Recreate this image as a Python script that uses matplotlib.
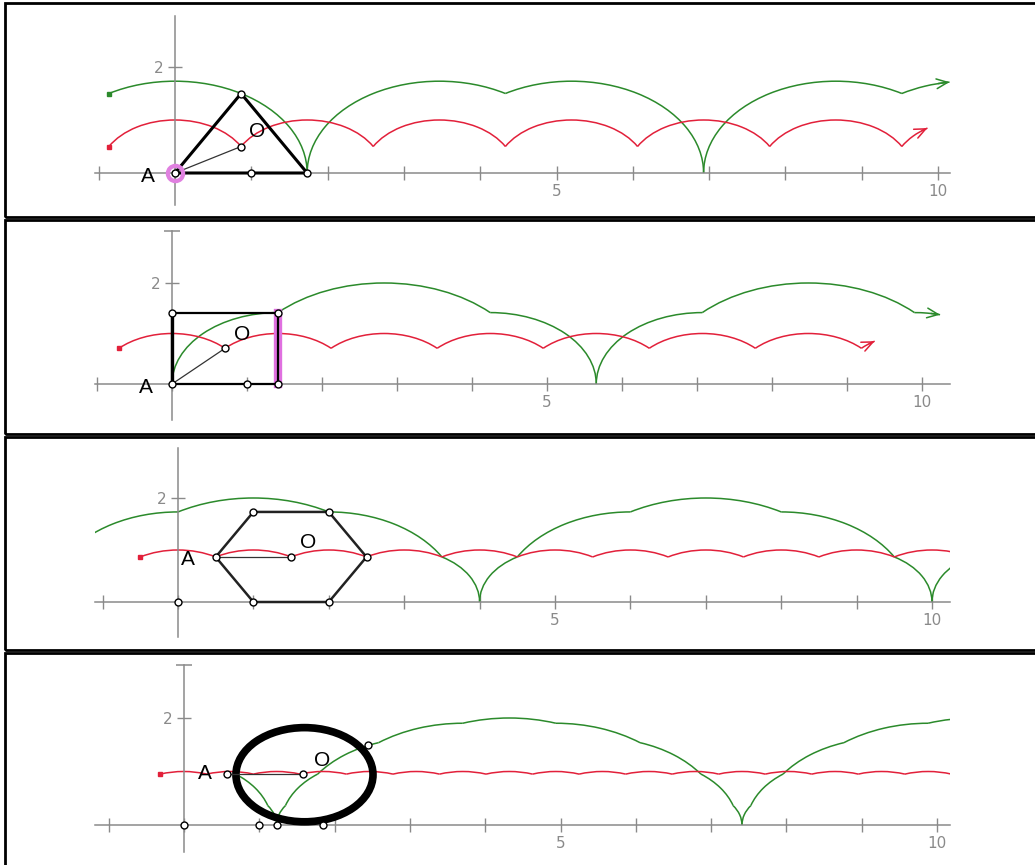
import numpy as np
import matplotlib.pyplot as plt
from matplotlib.patches import Arc, Ellipse, Polygon, Rectangle

W, H = 1035, 865
GREEN = '#2b8a2b'
RED = '#e2203a'
GREY = '#8a8a8a'

# arcs of each locus: (centre x on the axis, radius, start angle, end angle) in degrees
# panel 1 - rolling triangle
tri_green = [(0.0, 1.732, 0, 120), (3.464, 1.732, 60, 180), (5.196, 1.732, 0, 120),
             (8.660, 1.732, 60, 180), (10.392, 1.732, 98, 120)]
tri_red = [(0.0, 1, 30, 150), (1.732, 1, 30, 150), (3.464, 1, 30, 150), (5.196, 1, 30, 150),
           (6.928, 1, 30, 150), (8.660, 1, 30, 150), (10.392, 1, 122, 150)]
tri_shape = [(0, 0), (0.866, 1.5), (1.732, 0)]
tri_points = [(0, 0), (0.866, 1.5), (1.732, 0), (0.866, 0.5), (1, 0)]
tri_a, tri_o = (0, 0), (0.866, 0.5)
tri_starts = [(-0.866, 1.5, GREEN), (-0.866, 0.5, RED)]

# panel 2 - rolling square
sq_green = [(1.414, 1.414, 90, 180), (2.828, 2, 45, 135), (4.243, 1.414, 0, 90),
            (7.071, 1.414, 90, 180), (8.485, 2, 45, 135), (9.899, 1.414, 76, 90)]
sq_red = [(0.0, 1, 45, 135), (1.414, 1, 45, 135), (2.828, 1, 45, 135), (4.243, 1, 45, 135),
          (5.657, 1, 45, 135), (7.071, 1, 45, 135), (8.485, 1, 45, 135), (9.899, 1, 122, 135)]
sq_shape = [(0, 0), (0, 1.414), (1.414, 1.414), (1.414, 0)]
sq_points = [(0, 0), (0, 1.414), (1.414, 1.414), (1.414, 0), (0.707, 0.707), (1, 0)]
sq_a, sq_o = (0, 0), (0.707, 0.707)
sq_starts = [(-0.707, 0.707, RED)]

# panel 3 - rolling hexagon
hex_green = [(0, 1.732, 90, 150), (1, 2, 60, 120), (2, 1.732, 30, 90), (3, 1, 0, 60),
             (5, 1, 120, 180), (6, 1.732, 90, 150), (7, 2, 60, 120), (8, 1.732, 30, 90),
             (9, 1, 0, 60), (11, 1, 120, 180)]
hex_red = [(0, 1, 60, 120), (1, 1, 60, 120), (2, 1, 60, 120), (3, 1, 60, 120), (4, 1, 60, 120),
           (5, 1, 60, 120), (6, 1, 60, 120), (7, 1, 60, 120), (8, 1, 60, 120), (9, 1, 60, 120),
           (10, 1, 60, 120)]
hex_shape = [(1, 0), (2, 0), (2.5, 0.866), (2, 1.732), (1, 1.732), (0.5, 0.866)]
hex_points = hex_shape + [(1.5, 0.866), (0, 0)]
hex_a, hex_o = (0.5, 0.866), (1.5, 0.866)
hex_starts = [(-0.5, 0.866, RED)]

# panel 4 - rolling circle (drawn as a 10-gon locus)
circ_green = [(-0.006, 1.176, 18, 54), (0.612, 0.618, 0, 36),
              (1.848, 0.618, 144, 180), (2.466, 1.176, 126, 162), (3.084, 1.618, 108, 144),
              (3.702, 1.902, 90, 126), (4.320, 2.0, 72, 108), (4.938, 1.902, 54, 90),
              (5.556, 1.618, 36, 72), (6.174, 1.176, 18, 54), (6.792, 0.618, 0, 36),
              (8.028, 0.618, 144, 180), (8.646, 1.176, 126, 162), (9.264, 1.618, 108, 144),
              (9.882, 1.902, 90, 126), (10.500, 2.0, 72, 108)]
circ_red = [(-0.006, 1, 72, 108), (0.612, 1, 72, 108), (1.230, 1, 72, 108), (1.848, 1, 72, 108),
            (2.466, 1, 72, 108), (3.084, 1, 72, 108), (3.702, 1, 72, 108), (4.320, 1, 72, 108),
            (4.938, 1, 72, 108), (5.556, 1, 72, 108), (6.174, 1, 72, 108), (6.792, 1, 72, 108),
            (7.410, 1, 72, 108), (8.028, 1, 72, 108), (8.646, 1, 72, 108), (9.264, 1, 72, 108),
            (9.882, 1, 72, 108), (10.500, 1, 72, 108)]
circ_points = [(0, 0), (1, 0), (1.23, 0), (1.85, 0), (0.57, 0.95), (1.58, 0.95), (2.44, 1.5)]
circ_a, circ_o = (0.57, 0.95), (1.58, 0.95)
circ_starts = [(-0.315, 0.951, RED)]

labels_a = [(-0.35, -0.06), (-0.35, -0.06), (0.13, 0.81), (0.28, 0.97)]
labels_o = [(1.07, 0.79), (0.93, 0.99), (1.72, 1.15), (1.83, 1.21)]
x_ticks = list(range(-1, 11))
x_ticklabels = ['5' if t == 5 else '10' if t == 10 else '' for t in x_ticks]

# layout: panel top/bottom px, origin px, px per unit, y-axis extent
panels = [(5, 215, 175, 173, 76.3, 53.0, (-0.6, 2.96)),
          (222, 432, 172, 384, 75.0, 50.5, (-0.71, 3.03)),
          (439, 648, 178, 602, 75.4, 52.0, (-0.67, 2.96)),
          (655, 862, 184, 825, 75.3, 53.5, (-0.5, 2.99))]
borders = [(3, 217), (220, 434), (437, 650), (653, 866)]


def draw_arcs(ax, arcs, colour, arrow=False):
    for cx, r, a1, a2 in arcs:
        ax.add_patch(Arc((cx, 0), 2 * r, 2 * r, theta1=a1, theta2=a2,
                         color=colour, lw=1.1, zorder=2))
    if arrow:
        cx, r, a1, a2 = arcs[-1]
        tip = (cx + r * np.cos(np.radians(a1)), r * np.sin(np.radians(a1)))
        tail = (cx + r * np.cos(np.radians(a1 + 5)), r * np.sin(np.radians(a1 + 5)))
        ax.annotate('', xy=tip, xytext=tail, annotation_clip=False,
                    arrowprops=dict(arrowstyle='->,head_length=0.8,head_width=0.35',
                                    color=colour, lw=1.1, shrinkA=0, shrinkB=0))


fig = plt.figure(figsize=(W / 100, H / 100), dpi=100)
fig.patch.set_facecolor('white')

for top, bot in borders:
    fig.add_artist(Rectangle((5 / W, 1 - bot / H), 1.1, (bot - top) / H,
                             transform=fig.transFigure, fill=False, ec='black', lw=2))

axes = []
for top, bot, x0, y0, sx, sy, ybounds in panels:
    ax = fig.add_axes([95 / W, 1 - bot / H, (950 - 95) / W, (bot - top) / H])
    ax.set_xlim((95 - x0) / sx, (950 - x0) / sx)
    ax.set_ylim((y0 - bot) / sy, (y0 - top) / sy)
    ax.patch.set_alpha(0)
    for s in ['top', 'right']:
        ax.spines[s].set_visible(False)
    for s in ['left', 'bottom']:
        ax.spines[s].set_position(('data', 0))
        ax.spines[s].set_color(GREY)
        ax.spines[s].set_linewidth(1.1)
    ax.spines['left'].set_bounds(*ybounds)
    ax.set_xticks(x_ticks)
    ax.set_xticklabels(x_ticklabels)
    ax.set_yticks([2])
    ax.set_yticklabels(['2'])
    ax.tick_params(direction='inout', length=10, width=1, color=GREY,
                   labelcolor=GREY, labelsize=11, pad=3)
    axes.append(ax)

ax1, ax2, ax3, ax4 = axes
pt = dict(ls='none', marker='o', ms=5, mfc='white', mec='black', mew=1, zorder=5)

# panel 1
draw_arcs(ax1, tri_green, GREEN, arrow=True)
draw_arcs(ax1, tri_red, RED, arrow=True)
ax1.add_patch(Polygon(tri_shape, closed=True, fill=False, ec='black', lw=2.2, zorder=3))
ax1.plot(*zip(tri_a, tri_o), color='#333333', lw=0.9, zorder=3)
ax1.plot(*tri_a, marker='o', ms=11, mfc='none', mec='#e080e0', mew=3, zorder=4)
ax1.plot(*zip(*tri_points), **pt)

# panel 2
draw_arcs(ax2, sq_green, GREEN, arrow=True)
draw_arcs(ax2, sq_red, RED, arrow=True)
ax2.plot([sq_shape[3][0]] * 2, [0, sq_shape[2][1]], color='#e070e0', lw=6, zorder=3)
ax2.add_patch(Polygon(sq_shape, closed=True, fill=False, ec='black', lw=1.6, zorder=3))
ax2.plot([0, 0], [0, sq_shape[1][1]], color='black', lw=2.4, zorder=3)
ax2.plot(*zip(sq_a, sq_o), color='#333333', lw=0.9, zorder=3)
ax2.plot(*zip(*sq_points), **pt)
ax2.plot(0, panels[1][6][1], marker='_', ms=12, color=GREY, mew=1.1)

# panel 3
draw_arcs(ax3, hex_green, GREEN)
draw_arcs(ax3, hex_red, RED)
ax3.add_patch(Polygon(hex_shape, closed=True, fill=False, ec='#222222', lw=1.8, zorder=3))
ax3.plot(*zip(hex_a, hex_o), color='#333333', lw=0.9, zorder=3)
ax3.plot(*zip(*hex_points), **pt)

# panel 4
draw_arcs(ax4, circ_green, GREEN)
draw_arcs(ax4, circ_red, RED)
ax4.add_patch(Ellipse((1.6, 0.94), 1.82, 1.76, fill=False, ec='black', lw=5.5, zorder=3))
ax4.plot(*zip(circ_a, circ_o), color='#333333', lw=0.9, zorder=3)
ax4.plot(*zip(*circ_points), **pt)
ax4.plot(0, panels[3][6][1], marker='_', ms=12, color=GREY, mew=1.1)

starts = [tri_starts, sq_starts, hex_starts, circ_starts]
for ax, st, la, lo in zip(axes, starts, labels_a, labels_o):
    for x, y, c in st:
        ax.plot(x, y, marker='s', ms=3, color=c, zorder=4)
    ax.text(*la, 'A', fontsize=15, family='Liberation Sans', ha='center', va='center', zorder=6)
    ax.text(*lo, 'O', fontsize=15, family='Liberation Sans', ha='center', va='center', zorder=6)

fig.savefig('out.png', dpi=100, facecolor='white')
